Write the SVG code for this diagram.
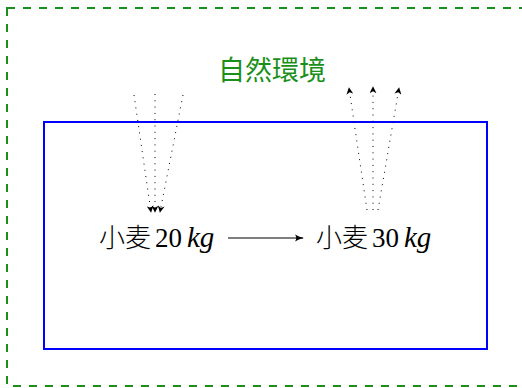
<svg xmlns="http://www.w3.org/2000/svg" width="522" height="388" viewBox="0 0 522 388">
<style>
.env{fill:none;stroke:#1a8f1a;stroke-width:2;stroke-dasharray:8 8}
.box{fill:none;stroke:#0000ff;stroke-width:2}
.dot{fill:none;stroke:#000;stroke-width:1;stroke-dasharray:1 5.3}
.t{font-family:"Liberation Serif","Noto Sans CJK SC",serif;font-size:27px;fill:#000}
.cjk{font-family:"Noto Sans CJK SC",sans-serif;font-weight:300;font-size:26px}
.it{font-style:italic;font-size:29px}
.lbl{font-family:"Noto Sans CJK SC",sans-serif;font-size:27px;fill:#1a8f1a}
</style>
<defs>
<marker id="ah" viewBox="0 0 10 10" refX="9" refY="5" markerWidth="7" markerHeight="7" markerUnits="userSpaceOnUse" orient="auto">
<path d="M0,0 L10,5 L0,10 L3,5 Z" fill="#000"/>
</marker>
<marker id="ah2" viewBox="0 0 10 10" refX="9" refY="5" markerWidth="9" markerHeight="9" markerUnits="userSpaceOnUse" orient="auto">
<path d="M0,1 Q5,4 10,5 Q5,6 0,9 Q3,5 0,1 Z" fill="#000"/>
</marker>
</defs>
<g id="environment">
<rect class="env" x="7" y="8" width="530" height="378"/>
<text class="lbl" x="218" y="80">自然環境</text>
</g>
<g id="system">
<rect class="box" x="44" y="122" width="443" height="227"/>
</g>
<g id="wheat20">
<text class="t" y="247"><tspan class="cjk" x="99">小麦</tspan><tspan x="155">20</tspan><tspan class="it" x="187">kg</tspan></text>
</g>
<g id="wheat30">
<text class="t" y="247"><tspan class="cjk" x="316">小麦</tspan><tspan x="372">30</tspan><tspan class="it" x="404">kg</tspan></text>
</g>
<g id="connectors">
<line x1="228" y1="238" x2="303" y2="238" stroke="#000" stroke-width="1.2" marker-end="url(#ah2)"/>
<line class="dot" x1="134" y1="95" x2="151" y2="212" marker-end="url(#ah)"/>
<line class="dot" x1="155" y1="94" x2="155" y2="212" marker-end="url(#ah)"/>
<line class="dot" x1="183" y1="95" x2="160" y2="212" marker-end="url(#ah)"/>
<line class="dot" x1="367" y1="210" x2="349" y2="88" marker-end="url(#ah)"/>
<line class="dot" x1="373" y1="210" x2="373" y2="87" marker-end="url(#ah)"/>
<line class="dot" x1="378" y1="210" x2="399" y2="88" marker-end="url(#ah)"/>
</g>
</svg>
